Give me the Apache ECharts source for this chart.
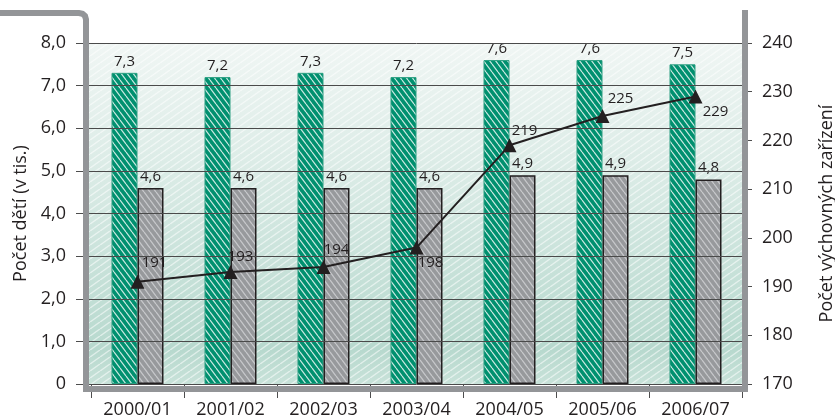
<!DOCTYPE html>
<html>
<head>
<meta charset="utf-8">
<script src="https://cdn.jsdelivr.net/npm/echarts@6/dist/echarts.min.js"></script>
<style>
html,body{margin:0;padding:0;background:#fff;}
#c{width:835px;height:419px;}
</style>
</head>
<body>
<div id="c"></div>
<script>
const categories = ['2000/01','2001/02','2002/03','2003/04','2004/05','2005/06','2006/07'];
const greenValues = [7.3, 7.2, 7.3, 7.2, 7.6, 7.6, 7.5];
const grayValues = [4.6, 4.6, 4.6, 4.6, 4.9, 4.9, 4.8];
const facilityValues = [191, 193, 194, 198, 219, 225, 229];
const leftAxisName = 'Počet dětí (v tis.)';
const rightAxisName = 'Počet výchovných zařízení';

// label placement for the line series (styling)
const lineLabelOffsets = [[17,-19],[10,-15],[13,-17],[14,15],[15,-15],[18,-17],[20,15]];

function stripeTile(w, h, bg, stroke, lw, dir) {
  const c = document.createElement('canvas');
  c.width = w; c.height = h;
  const g = c.getContext('2d');
  if (bg) { g.fillStyle = bg; g.fillRect(0, 0, w, h); }
  g.strokeStyle = stroke; g.lineWidth = lw;
  for (let k = -w; k <= w; k += w) {
    g.beginPath();
    if (dir > 0) { g.moveTo(k, 0); g.lineTo(k + w, h); }
    else { g.moveTo(k + w, 0); g.lineTo(k, h); }
    g.stroke();
  }
  return c;
}
const greenTile = stripeTile(6, 8, '#00906f', 'rgba(255,255,255,0.8)', 1.2, 1);
const grayTile = stripeTile(6, 8, '#97999c', 'rgba(205,206,208,0.9)', 1.3, 1);
const bgTile = stripeTile(10, 7, null, 'rgba(255,255,255,0.55)', 1.4, -1);

const FONT = 'Open Sans';
const TXT = '#231f20';
const fmt = v => (v === 0 ? '0' : Number(v).toFixed(1).replace('.', ','));

const chart = echarts.init(document.getElementById('c'));
chart.setOption({
  animation: false,
  textStyle: { fontFamily: FONT, color: TXT },
  grid: { left: 91, right: 93, top: 43, bottom: 35, outerBoundsMode: 'none', containLabel: false },
  graphic: {
    elements: [
      { type: 'rect', z: -10, shape: { x: 89, y: 44, width: 653, height: 340 },
        style: { fill: new echarts.graphic.LinearGradient(0, 0, 0, 1, [
          { offset: 0, color: '#f0f6f4' }, { offset: 0.45, color: '#d6e9e3' }, { offset: 0.9, color: '#b7d9ce' }, { offset: 1, color: '#c8e2d9' }]) } },
      { type: 'rect', z: -9, shape: { x: 89, y: 44, width: 653, height: 340 },
        style: { fill: { image: bgTile, repeat: 'repeat' } } },
      { type: 'polyline', z: 100,
        shape: { points: [[0,13],[79,13],[82.5,13.8],[85,16],[86,19.5],[86,389],[745,389],[745,10]] },
        style: { stroke: '#939598', lineWidth: 6, fill: null, lineJoin: 'miter' } }
    ]
  },
  xAxis: {
    type: 'category', data: categories,
    axisLine: { show: false },
    axisTick: { show: true, length: 14, lineStyle: { color: '#4d4d4d', width: 1 } },
    axisLabel: { margin: 17, fontSize: 18, color: TXT, fontFamily: FONT }
  },
  yAxis: [
    { type: 'value', min: 0, max: 8, interval: 1, z: 3,
      name: leftAxisName, nameLocation: 'middle', nameGap: 61,
      nameTextStyle: { fontSize: 18, color: TXT, fontFamily: FONT },
      axisLine: { show: false },
      axisTick: { show: true, length: 15, lineStyle: { color: '#4d4d4d' } },
      axisLabel: { margin: 25, fontSize: 18, color: TXT, fontFamily: FONT, formatter: fmt },
      splitLine: { show: true, lineStyle: { color: '#4a4a4a', width: 1 } } },
    { type: 'value', min: 170, max: 240, interval: 10, z: 3,
      name: rightAxisName, nameLocation: 'middle', nameGap: 76,
      nameTextStyle: { fontSize: 18, color: TXT, fontFamily: FONT },
      axisLine: { show: false },
      axisTick: { show: true, length: 10, lineStyle: { color: '#4d4d4d' } },
      axisLabel: { margin: 20, fontSize: 18, color: TXT, fontFamily: FONT },
      splitLine: { show: false } }
  ],
  series: [
    { type: 'bar', name: 'A', data: greenValues, barWidth: 26, barGap: '0%',
      itemStyle: { color: { image: greenTile, repeat: 'repeat' }, borderColor: '#2c9f82', borderWidth: 1 },
      label: { show: true, position: 'top', distance: 4, fontSize: 15, color: TXT, fontFamily: FONT,
        formatter: p => fmt(p.value) } },
    { type: 'bar', name: 'B', data: grayValues, barWidth: 26,
      itemStyle: { color: { image: grayTile, repeat: 'repeat' }, borderColor: '#231f20', borderWidth: 1.5 },
      label: { show: true, position: 'top', distance: 4, fontSize: 15, color: TXT, fontFamily: FONT,
        formatter: p => fmt(p.value) } },
    { type: 'line', name: 'C', yAxisIndex: 1, z: 6,
      data: facilityValues.map((v, i) => ({ value: v, label: { offset: lineLabelOffsets[i] } })),
      symbol: 'triangle', symbolSize: 14,
      lineStyle: { color: '#231f20', width: 2 },
      itemStyle: { color: '#231f20' },
      label: { show: true, position: 'inside', fontSize: 15, color: TXT, fontFamily: FONT } }
  ]
});
</script>
</body>
</html>
